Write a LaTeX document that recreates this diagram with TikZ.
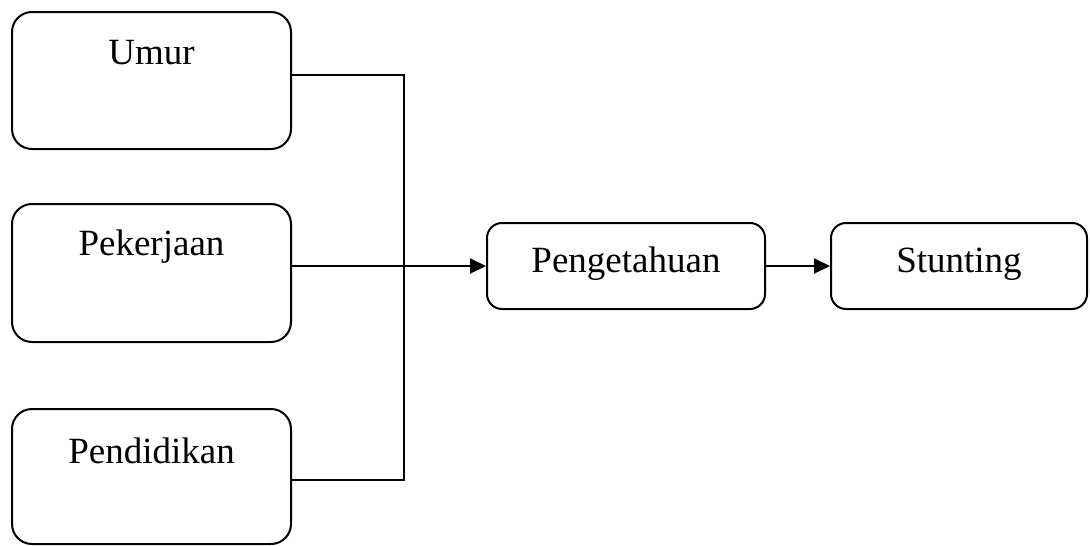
\documentclass[tikz,border=0pt]{standalone}
\usepackage{fontspec}
\setmainfont{Liberation Serif}
\usetikzlibrary{arrows.meta}
\tikzset{
  box/.style={draw, line width=2pt, rounded corners=20pt, inner sep=0pt, anchor=center},
  lbl/.style={inner sep=0pt, font=\fontsize{37}{40}\selectfont},
  conn/.style={line width=2pt},
  arr/.style={conn, -{Triangle[length=16pt,width=15pt]}}
}
\begin{document}
\begin{tikzpicture}[x=1pt,y=-1pt]
\useasboundingbox (0,0) rectangle (1090,546);
% left boxes
\node[box, minimum width=279pt, minimum height=137pt] (umur) at (151.5,80.5) {};
\node[lbl, anchor=base] (tumur) at (151.5,64) {Umur};
\node[box, minimum width=279pt, minimum height=138pt] (pek) at (151.5,273) {};
\node[lbl, anchor=base] (tpek) at (151.5,255) {Pekerjaan};
\node[box, minimum width=279pt, minimum height=135pt] (pend) at (151.5,476.5) {};
\node[lbl, anchor=base] (tpend) at (151.5,463) {Pendidikan};
% right boxes
\node[box, rounded corners=15pt, minimum width=278pt, minimum height=86pt] (peng) at (626,266) {};
\node[lbl, anchor=base] (tpeng) at (626,272) {Pengetahuan};
\node[box, rounded corners=15pt, minimum width=256pt, minimum height=86pt] (stunt) at (959,266) {};
\node[lbl, anchor=base] (tstunt) at (959,272) {Stunting};
% connectors
\coordinate (jt) at (404,75);
\coordinate (jb) at (404,480);
\draw[conn] (umur.east |- jt) -- (jt) -- (jb) -- (pend.east |- jb);
\draw[arr] (pek.east |- peng.west) -- (peng.west);
\draw[arr] (peng.east) -- (stunt.west);
\end{tikzpicture}
\end{document}
